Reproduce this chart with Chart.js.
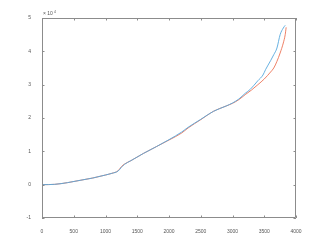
<!DOCTYPE html>
<html>
<head>
<meta charset="utf-8">
<script src="https://cdn.jsdelivr.net/npm/chart.js@4"></script>
<style>
  html, body { margin: 0; padding: 0; background: #fff; }
  #wrap { width: 327px; height: 245px; }
</style>
</head>
<body>
<div id="wrap"><canvas id="grafik" width="327" height="245"></canvas></div>
<script>
// values in units of 10^4 (axis shows "x 10^4")
const xBiru  = [0, 200, 400, 600, 800, 1000, 1100, 1200, 1250, 1300, 1400, 1600, 1800, 2000, 2200, 2300, 2500, 2700, 2900, 3000, 3100, 3200, 3280, 3400, 3480, 3520, 3600, 3650, 3700, 3750, 3800, 3830];
const yBiru  = [0, 0.01, 0.06, 0.13, 0.2, 0.29, 0.34, 0.41, 0.52, 0.61, 0.72, 0.94, 1.14, 1.35, 1.58, 1.72, 1.96, 2.2, 2.36, 2.45, 2.57, 2.74, 2.86, 3.12, 3.29, 3.45, 3.72, 3.9, 4.1, 4.5, 4.7, 4.78];
const xMerah = [0, 200, 400, 600, 800, 1000, 1100, 1200, 1250, 1300, 1400, 1600, 1800, 2000, 2200, 2300, 2500, 2700, 2900, 3000, 3100, 3200, 3300, 3400, 3500, 3600, 3650, 3700, 3750, 3800, 3830, 3845];
const yMerah = [0, 0.01, 0.06, 0.13, 0.2, 0.29, 0.34, 0.42, 0.54, 0.62, 0.72, 0.94, 1.14, 1.34, 1.55, 1.7, 1.95, 2.2, 2.36, 2.44, 2.55, 2.7, 2.84, 3.0, 3.17, 3.38, 3.5, 3.7, 3.95, 4.25, 4.5, 4.72];
const xTicks = [0, 500, 1000, 1500, 2000, 2500, 3000, 3500, 4000];
const yTicks = [-1, 0, 1, 2, 3, 4, 5];

const warnaSumbu = '#8c8c8c';
const fontTick = { family: 'Liberation Sans, Arial, sans-serif', size: 5 };

const pasangkan = (xs, ys) => xs.map((x, i) => ({ x: x, y: ys[i] }));

// box + inward ticks like matlab, plus exponent label
const kotak = {
  id: 'kotak',
  afterDraw(chart) {
    const ctx = chart.ctx;
    const a = chart.chartArea;
    const sx = chart.scales.x, sy = chart.scales.y;
    ctx.save();
    ctx.strokeStyle = warnaSumbu;
    ctx.lineWidth = 1;
    ctx.beginPath();
    ctx.rect(a.left + 0.5, a.top + 0.5, a.right - a.left - 1, a.bottom - a.top - 1);
    xTicks.forEach(t => {
      const px = Math.round(sx.getPixelForValue(t)) + 0.5;
      ctx.moveTo(px, a.bottom); ctx.lineTo(px, a.bottom - 2.5);
      ctx.moveTo(px, a.top); ctx.lineTo(px, a.top + 2.5);
    });
    yTicks.forEach(t => {
      const py = Math.round(sy.getPixelForValue(t)) + 0.5;
      ctx.moveTo(a.left, py); ctx.lineTo(a.left + 2.5, py);
      ctx.moveTo(a.right, py); ctx.lineTo(a.right - 2.5, py);
    });
    ctx.stroke();
    ctx.fillStyle = '#555';
    ctx.font = '5px Liberation Sans, Arial, sans-serif';
    ctx.textBaseline = 'bottom';
    ctx.fillText('\u00d7 10', a.left + 1, a.top - 1.5);
    ctx.font = '3.5px Liberation Sans, Arial, sans-serif';
    ctx.fillText('4', a.left + 12, a.top - 4);
    ctx.restore();
  }
};

new Chart(document.getElementById('grafik'), {
  type: 'scatter',
  data: {
    datasets: [
      { data: pasangkan(xBiru, yBiru), showLine: true, borderColor: '#56a8de', borderWidth: 0.9, pointRadius: 0, cubicInterpolationMode: 'monotone' },
      { data: pasangkan(xMerah, yMerah), showLine: true, borderColor: '#ec7356', borderWidth: 0.9, pointRadius: 0, cubicInterpolationMode: 'monotone' }
    ]
  },
  plugins: [kotak],
  options: {
    responsive: false,
    animation: false,
    events: [],
    layout: { padding: { left: 0, top: 18, right: 31, bottom: 0 } },
    plugins: { legend: { display: false }, tooltip: { enabled: false } },
    scales: {
      x: {
        type: 'linear', min: 0, max: 4000,
        afterBuildTicks: s => { s.ticks = xTicks.map(v => ({ value: v })); },
        afterFit: s => { s.height = 27; },
        grid: { display: false },
        border: { display: false },
        ticks: { font: fontTick, color: '#555', padding: 3, maxRotation: 0, callback: v => String(v) }
      },
      y: {
        type: 'linear', min: -1, max: 5,
        afterBuildTicks: s => { s.ticks = yTicks.map(v => ({ value: v })); },
        afterFit: s => { s.width = 42; },
        grid: { display: false },
        border: { display: false },
        ticks: { font: fontTick, color: '#555', padding: 3, callback: v => String(v) }
      }
    }
  }
});
</script>
</body>
</html>
